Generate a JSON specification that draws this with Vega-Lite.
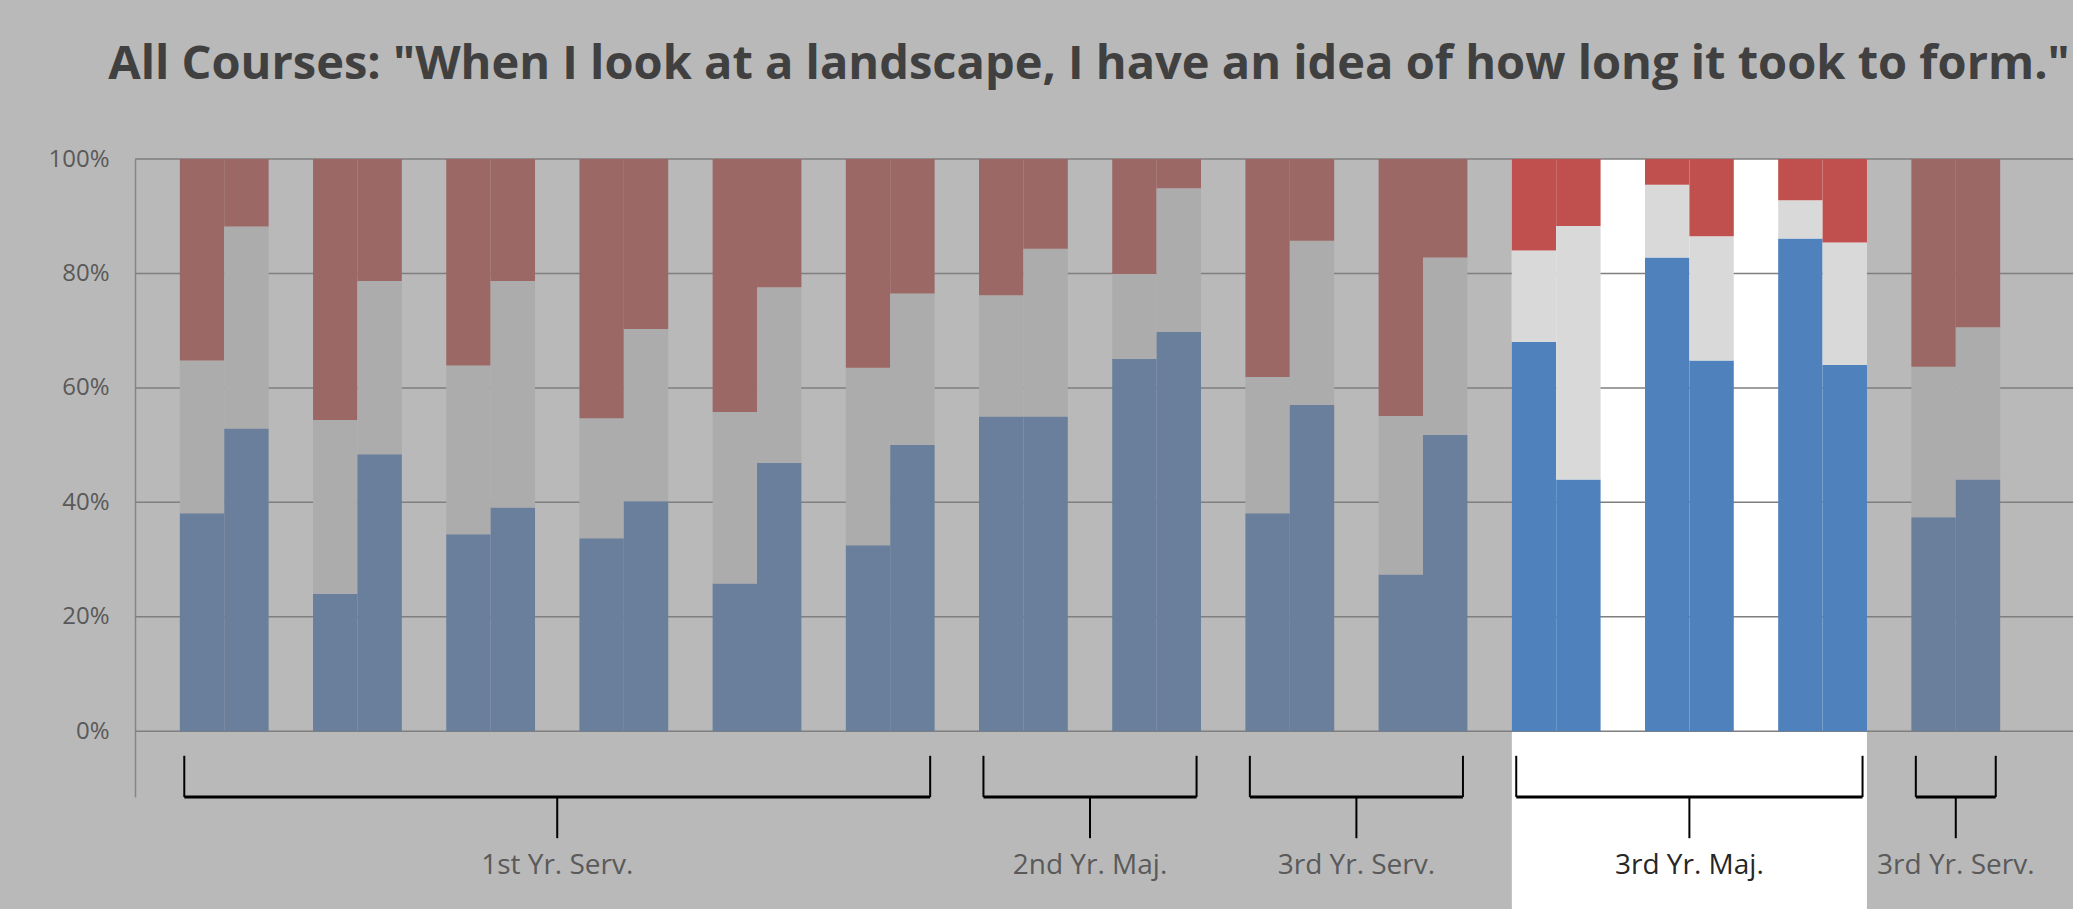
{
  "$schema": "https://vega.github.io/schema/vega-lite/v6.json",
  "autosize": "none",
  "width": 1938,
  "height": 638,
  "padding": {"left": 135, "top": 159, "right": 0, "bottom": 112},
  "background": "#b9b9b9",
  "config": {"view": {"stroke": null}},
  "title": {
    "text": "All Courses: \"When I look at a landscape, I have an idea of how long it took to form.\"",
    "font": "Open Sans",
    "fontSize": 47,
    "fontWeight": "bold",
    "color": "#404040",
    "anchor": "middle",
    "offset": 58,
    "dx": -15
  },
  "datasets": {
    "bars": [
      {"course":"C01","group":"1st Yr. Serv.","survey":"Pre","response":"Agree","code":1,"pct":38.1},
      {"course":"C01","group":"1st Yr. Serv.","survey":"Pre","response":"Neutral","code":2,"pct":26.7},
      {"course":"C01","group":"1st Yr. Serv.","survey":"Pre","response":"Disagree","code":3,"pct":35.2},
      {"course":"C01","group":"1st Yr. Serv.","survey":"Post","response":"Agree","code":1,"pct":52.9},
      {"course":"C01","group":"1st Yr. Serv.","survey":"Post","response":"Neutral","code":2,"pct":35.3},
      {"course":"C01","group":"1st Yr. Serv.","survey":"Post","response":"Disagree","code":3,"pct":11.8},
      {"course":"C02","group":"1st Yr. Serv.","survey":"Pre","response":"Agree","code":1,"pct":24.0},
      {"course":"C02","group":"1st Yr. Serv.","survey":"Pre","response":"Neutral","code":2,"pct":30.4},
      {"course":"C02","group":"1st Yr. Serv.","survey":"Pre","response":"Disagree","code":3,"pct":45.6},
      {"course":"C02","group":"1st Yr. Serv.","survey":"Post","response":"Agree","code":1,"pct":48.4},
      {"course":"C02","group":"1st Yr. Serv.","survey":"Post","response":"Neutral","code":2,"pct":30.3},
      {"course":"C02","group":"1st Yr. Serv.","survey":"Post","response":"Disagree","code":3,"pct":21.3},
      {"course":"C03","group":"1st Yr. Serv.","survey":"Pre","response":"Agree","code":1,"pct":34.4},
      {"course":"C03","group":"1st Yr. Serv.","survey":"Pre","response":"Neutral","code":2,"pct":29.5},
      {"course":"C03","group":"1st Yr. Serv.","survey":"Pre","response":"Disagree","code":3,"pct":36.1},
      {"course":"C03","group":"1st Yr. Serv.","survey":"Post","response":"Agree","code":1,"pct":39.1},
      {"course":"C03","group":"1st Yr. Serv.","survey":"Post","response":"Neutral","code":2,"pct":39.6},
      {"course":"C03","group":"1st Yr. Serv.","survey":"Post","response":"Disagree","code":3,"pct":21.3},
      {"course":"C04","group":"1st Yr. Serv.","survey":"Pre","response":"Agree","code":1,"pct":33.7},
      {"course":"C04","group":"1st Yr. Serv.","survey":"Pre","response":"Neutral","code":2,"pct":21.0},
      {"course":"C04","group":"1st Yr. Serv.","survey":"Pre","response":"Disagree","code":3,"pct":45.3},
      {"course":"C04","group":"1st Yr. Serv.","survey":"Post","response":"Agree","code":1,"pct":40.2},
      {"course":"C04","group":"1st Yr. Serv.","survey":"Post","response":"Neutral","code":2,"pct":30.1},
      {"course":"C04","group":"1st Yr. Serv.","survey":"Post","response":"Disagree","code":3,"pct":29.7},
      {"course":"C05","group":"1st Yr. Serv.","survey":"Pre","response":"Agree","code":1,"pct":25.8},
      {"course":"C05","group":"1st Yr. Serv.","survey":"Pre","response":"Neutral","code":2,"pct":30.0},
      {"course":"C05","group":"1st Yr. Serv.","survey":"Pre","response":"Disagree","code":3,"pct":44.2},
      {"course":"C05","group":"1st Yr. Serv.","survey":"Post","response":"Agree","code":1,"pct":46.9},
      {"course":"C05","group":"1st Yr. Serv.","survey":"Post","response":"Neutral","code":2,"pct":30.7},
      {"course":"C05","group":"1st Yr. Serv.","survey":"Post","response":"Disagree","code":3,"pct":22.4},
      {"course":"C06","group":"1st Yr. Serv.","survey":"Pre","response":"Agree","code":1,"pct":32.5},
      {"course":"C06","group":"1st Yr. Serv.","survey":"Pre","response":"Neutral","code":2,"pct":31.0},
      {"course":"C06","group":"1st Yr. Serv.","survey":"Pre","response":"Disagree","code":3,"pct":36.5},
      {"course":"C06","group":"1st Yr. Serv.","survey":"Post","response":"Agree","code":1,"pct":50.0},
      {"course":"C06","group":"1st Yr. Serv.","survey":"Post","response":"Neutral","code":2,"pct":26.5},
      {"course":"C06","group":"1st Yr. Serv.","survey":"Post","response":"Disagree","code":3,"pct":23.5},
      {"course":"C07","group":"2nd Yr. Maj.","survey":"Pre","response":"Agree","code":1,"pct":55.0},
      {"course":"C07","group":"2nd Yr. Maj.","survey":"Pre","response":"Neutral","code":2,"pct":21.2},
      {"course":"C07","group":"2nd Yr. Maj.","survey":"Pre","response":"Disagree","code":3,"pct":23.8},
      {"course":"C07","group":"2nd Yr. Maj.","survey":"Post","response":"Agree","code":1,"pct":55.0},
      {"course":"C07","group":"2nd Yr. Maj.","survey":"Post","response":"Neutral","code":2,"pct":29.3},
      {"course":"C07","group":"2nd Yr. Maj.","survey":"Post","response":"Disagree","code":3,"pct":15.7},
      {"course":"C08","group":"2nd Yr. Maj.","survey":"Pre","response":"Agree","code":1,"pct":65.1},
      {"course":"C08","group":"2nd Yr. Maj.","survey":"Pre","response":"Neutral","code":2,"pct":14.8},
      {"course":"C08","group":"2nd Yr. Maj.","survey":"Pre","response":"Disagree","code":3,"pct":20.1},
      {"course":"C08","group":"2nd Yr. Maj.","survey":"Post","response":"Agree","code":1,"pct":69.8},
      {"course":"C08","group":"2nd Yr. Maj.","survey":"Post","response":"Neutral","code":2,"pct":25.1},
      {"course":"C08","group":"2nd Yr. Maj.","survey":"Post","response":"Disagree","code":3,"pct":5.1},
      {"course":"C09","group":"3rd Yr. Serv.","survey":"Pre","response":"Agree","code":1,"pct":38.1},
      {"course":"C09","group":"3rd Yr. Serv.","survey":"Pre","response":"Neutral","code":2,"pct":23.8},
      {"course":"C09","group":"3rd Yr. Serv.","survey":"Pre","response":"Disagree","code":3,"pct":38.1},
      {"course":"C09","group":"3rd Yr. Serv.","survey":"Post","response":"Agree","code":1,"pct":57.0},
      {"course":"C09","group":"3rd Yr. Serv.","survey":"Post","response":"Neutral","code":2,"pct":28.7},
      {"course":"C09","group":"3rd Yr. Serv.","survey":"Post","response":"Disagree","code":3,"pct":14.3},
      {"course":"C10","group":"3rd Yr. Serv.","survey":"Pre","response":"Agree","code":1,"pct":27.4},
      {"course":"C10","group":"3rd Yr. Serv.","survey":"Pre","response":"Neutral","code":2,"pct":27.7},
      {"course":"C10","group":"3rd Yr. Serv.","survey":"Pre","response":"Disagree","code":3,"pct":44.9},
      {"course":"C10","group":"3rd Yr. Serv.","survey":"Post","response":"Agree","code":1,"pct":51.8},
      {"course":"C10","group":"3rd Yr. Serv.","survey":"Post","response":"Neutral","code":2,"pct":31.0},
      {"course":"C10","group":"3rd Yr. Serv.","survey":"Post","response":"Disagree","code":3,"pct":17.2},
      {"course":"C11","group":"3rd Yr. Maj.","survey":"Pre","response":"Agree","code":1,"pct":68.0},
      {"course":"C11","group":"3rd Yr. Maj.","survey":"Pre","response":"Neutral","code":2,"pct":16.0},
      {"course":"C11","group":"3rd Yr. Maj.","survey":"Pre","response":"Disagree","code":3,"pct":16.0},
      {"course":"C11","group":"3rd Yr. Maj.","survey":"Post","response":"Agree","code":1,"pct":44.0},
      {"course":"C11","group":"3rd Yr. Maj.","survey":"Post","response":"Neutral","code":2,"pct":44.3},
      {"course":"C11","group":"3rd Yr. Maj.","survey":"Post","response":"Disagree","code":3,"pct":11.7},
      {"course":"C12","group":"3rd Yr. Maj.","survey":"Pre","response":"Agree","code":1,"pct":82.8},
      {"course":"C12","group":"3rd Yr. Maj.","survey":"Pre","response":"Neutral","code":2,"pct":12.7},
      {"course":"C12","group":"3rd Yr. Maj.","survey":"Pre","response":"Disagree","code":3,"pct":4.5},
      {"course":"C12","group":"3rd Yr. Maj.","survey":"Post","response":"Agree","code":1,"pct":64.8},
      {"course":"C12","group":"3rd Yr. Maj.","survey":"Post","response":"Neutral","code":2,"pct":21.7},
      {"course":"C12","group":"3rd Yr. Maj.","survey":"Post","response":"Disagree","code":3,"pct":13.5},
      {"course":"C13","group":"3rd Yr. Maj.","survey":"Pre","response":"Agree","code":1,"pct":86.1},
      {"course":"C13","group":"3rd Yr. Maj.","survey":"Pre","response":"Neutral","code":2,"pct":6.7},
      {"course":"C13","group":"3rd Yr. Maj.","survey":"Pre","response":"Disagree","code":3,"pct":7.2},
      {"course":"C13","group":"3rd Yr. Maj.","survey":"Post","response":"Agree","code":1,"pct":64.0},
      {"course":"C13","group":"3rd Yr. Maj.","survey":"Post","response":"Neutral","code":2,"pct":21.4},
      {"course":"C13","group":"3rd Yr. Maj.","survey":"Post","response":"Disagree","code":3,"pct":14.6},
      {"course":"C14","group":"3rd Yr. Serv.","survey":"Pre","response":"Agree","code":1,"pct":37.4},
      {"course":"C14","group":"3rd Yr. Serv.","survey":"Pre","response":"Neutral","code":2,"pct":26.3},
      {"course":"C14","group":"3rd Yr. Serv.","survey":"Pre","response":"Disagree","code":3,"pct":36.3},
      {"course":"C14","group":"3rd Yr. Serv.","survey":"Post","response":"Agree","code":1,"pct":44.0},
      {"course":"C14","group":"3rd Yr. Serv.","survey":"Post","response":"Neutral","code":2,"pct":26.6},
      {"course":"C14","group":"3rd Yr. Serv.","survey":"Post","response":"Disagree","code":3,"pct":29.4}
    ],
    "groups": [
      {"group":"1st Yr. Serv.","first":"C01","last":"C06","mid":"C04","count":6},
      {"group":"2nd Yr. Maj.","first":"C07","last":"C08","mid":"C08","count":2},
      {"group":"3rd Yr. Serv.","first":"C09","last":"C10","mid":"C10","count":2},
      {"group":"3rd Yr. Maj.","first":"C11","last":"C13","mid":"C12","count":3},
      {"group":"3rd Yr. Serv.","first":"C14","last":"C14","mid":"C14","count":1}
    ]
  },
  "layer": [
    {
      "data": {"name": "groups"},
      "transform": [{"filter": "datum.group === '3rd Yr. Maj.'"}],
      "mark": {"type": "rect", "color": "#ffffff"},
      "encoding": {
        "x": {"field": "first", "type": "nominal", "bandPosition": 0.167, "axis": null,
              "scale": {"domain": ["C01","C02","C03","C04","C05","C06","C07","C08","C09","C10","C11","C12","C13","C14"], "paddingInner": 0, "paddingOuter": 0.275, "align": 0.309}},
        "x2": {"field": "last", "bandPosition": 0.833},
        "y": {"datum": 100, "type": "quantitative", "scale": {"domain": [-11.5, 100], "nice": false, "zero": false},
              "axis": {"values": [0,20,40,60,80,100], "labelExpr": "datum.value + '%'", "grid": false, "ticks": false, "domainColor": "#868686", "domainWidth": 1.5, "labelFont": "Open Sans", "labelFontSize": 24, "labelColor": "#595959", "labelPadding": 26, "title": null}},
        "y2": {"datum": -32}
      }
    },
    {"data": {"values": [{}]}, "mark": {"type": "rule", "color": "#7f7f7f", "strokeWidth": 1.5}, "encoding": {"y": {"datum": 0, "type": "quantitative"}}},
    {"data": {"values": [{}]}, "mark": {"type": "rule", "color": "#7f7f7f", "strokeWidth": 1.5}, "encoding": {"y": {"datum": 20, "type": "quantitative"}}},
    {"data": {"values": [{}]}, "mark": {"type": "rule", "color": "#7f7f7f", "strokeWidth": 1.5}, "encoding": {"y": {"datum": 40, "type": "quantitative"}}},
    {"data": {"values": [{}]}, "mark": {"type": "rule", "color": "#7f7f7f", "strokeWidth": 1.5}, "encoding": {"y": {"datum": 60, "type": "quantitative"}}},
    {"data": {"values": [{}]}, "mark": {"type": "rule", "color": "#7f7f7f", "strokeWidth": 1.5}, "encoding": {"y": {"datum": 80, "type": "quantitative"}}},
    {"data": {"values": [{}]}, "mark": {"type": "rule", "color": "#7f7f7f", "strokeWidth": 1.5}, "encoding": {"y": {"datum": 100, "type": "quantitative"}}},
    {
      "data": {"name": "bars"},
      "transform": [{"filter": "datum.group !== '3rd Yr. Maj.'"}],
      "mark": {"type": "bar"},
      "encoding": {
        "x": {"field": "course", "type": "nominal", "axis": null},
        "xOffset": {"field": "survey", "type": "nominal", "scale": {"domain": ["Pre","Post"], "paddingInner": 0, "paddingOuter": 0.5}},
        "y": {"field": "pct", "type": "quantitative", "stack": "zero", "title": null},
        "color": {"field": "response", "type": "nominal", "legend": null, "scale": {"domain": ["Agree","Neutral","Disagree"], "range": ["#6a7f9c","#acacac","#9c6866"]}},
        "order": {"field": "code", "type": "quantitative", "sort": "ascending"}
      }
    },
    {
      "data": {"name": "bars"},
      "transform": [{"filter": "datum.group === '3rd Yr. Maj.'"}],
      "mark": {"type": "bar"},
      "encoding": {
        "x": {"field": "course", "type": "nominal", "axis": null},
        "xOffset": {"field": "survey", "type": "nominal"},
        "y": {"field": "pct", "type": "quantitative", "stack": "zero", "title": null},
        "fill": {"field": "response", "type": "nominal", "legend": null, "scale": {"domain": ["Agree","Neutral","Disagree"], "range": ["#4f81bd","#d9d9d9","#c0504d"]}},
        "order": {"field": "code", "type": "quantitative", "sort": "ascending"}
      }
    },
    {
      "data": {"name": "groups"},
      "mark": {"type": "rule", "color": "#000000", "strokeWidth": 3},
      "encoding": {
        "x": {"field": "first", "type": "nominal", "bandPosition": 0.2, "axis": null},
        "x2": {"field": "last", "bandPosition": 0.8},
        "y": {"datum": -11.5, "type": "quantitative"}
      }
    },
    {
      "data": {"name": "groups"},
      "mark": {"type": "rule", "color": "#000000", "strokeWidth": 2},
      "encoding": {
        "x": {"field": "first", "type": "nominal", "bandPosition": 0.2, "axis": null},
        "y": {"datum": -4.3, "type": "quantitative"},
        "y2": {"datum": -11.5}
      }
    },
    {
      "data": {"name": "groups"},
      "mark": {"type": "rule", "color": "#000000", "strokeWidth": 2},
      "encoding": {
        "x": {"field": "last", "type": "nominal", "bandPosition": 0.8, "axis": null},
        "y": {"datum": -4.3, "type": "quantitative"},
        "y2": {"datum": -11.5}
      }
    },
    {
      "data": {"name": "groups"},
      "transform": [{"filter": "datum.count % 2 === 0"}],
      "mark": {"type": "rule", "color": "#000000", "strokeWidth": 2},
      "encoding": {
        "x": {"field": "mid", "type": "nominal", "bandPosition": 0, "axis": null},
        "y": {"datum": -11.5, "type": "quantitative"},
        "y2": {"datum": -18.7}
      }
    },
    {
      "data": {"name": "groups"},
      "transform": [{"filter": "datum.count % 2 === 1"}],
      "mark": {"type": "rule", "color": "#000000", "strokeWidth": 2},
      "encoding": {
        "x": {"field": "mid", "type": "nominal", "bandPosition": 0.5, "axis": null},
        "y": {"datum": -11.5, "type": "quantitative"},
        "y2": {"datum": -18.7}
      }
    },
    {
      "data": {"name": "groups"},
      "transform": [{"filter": "datum.count % 2 === 0"}],
      "mark": {"type": "text", "font": "Open Sans", "fontSize": 28, "baseline": "middle", "align": "center"},
      "encoding": {
        "x": {"field": "mid", "type": "nominal", "bandPosition": 0, "axis": null},
        "y": {"datum": -23.5, "type": "quantitative"},
        "text": {"field": "group"},
        "color": {"condition": {"test": "datum.group === '3rd Yr. Maj.'", "value": "#262626"}, "value": "#5a5a5a"}
      }
    },
    {
      "data": {"name": "groups"},
      "transform": [{"filter": "datum.count % 2 === 1"}],
      "mark": {"type": "text", "font": "Open Sans", "fontSize": 28, "baseline": "middle", "align": "center"},
      "encoding": {
        "x": {"field": "mid", "type": "nominal", "bandPosition": 0.5, "axis": null},
        "y": {"datum": -23.5, "type": "quantitative"},
        "text": {"field": "group"},
        "color": {"condition": {"test": "datum.group === '3rd Yr. Maj.'", "value": "#262626"}, "value": "#5a5a5a"}
      }
    }
  ]
}
